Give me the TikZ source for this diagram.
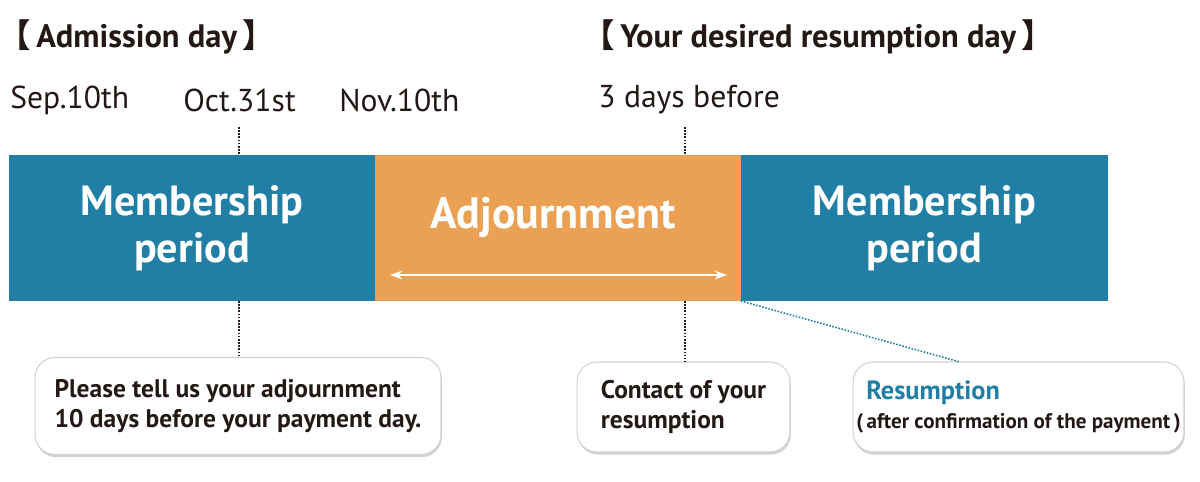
\documentclass[tikz,border=0pt]{standalone}
\usepackage{fontspec}
\setmainfont{PT Sans}
\newfontfamily\cjk{Noto Sans CJK JP}
\usetikzlibrary{arrows.meta,positioning,shadows}
\definecolor{MemberBlue}{RGB}{33,127,166}
\definecolor{PauseOrange}{RGB}{234,161,84}
\definecolor{TextBlack}{RGB}{35,24,21}

\begin{document}
\begin{tikzpicture}[x=0.02cm,y=-0.02cm,
	bar/.style={minimum height=2.92cm,inner sep=0pt,outer sep=0pt,text=white,
		font=\fontsize{24}{27}\selectfont\bfseries,align=center},
	date/.style={anchor=west,inner sep=0pt,text=TextBlack,font=\fontsize{18}{20}\selectfont},
	headline/.style={anchor=west,inner sep=0pt,text=TextBlack,font=\fontsize{18.5}{20}\selectfont\bfseries},
	note/.style={draw=gray!35,fill=white,rounded corners=0.4cm,line width=0.6pt,
		drop shadow={shadow xshift=0.5pt,shadow yshift=-1.5pt,opacity=0.35},
		align=left,inner sep=0pt,text=TextBlack,font=\fontsize{14.5}{17}\selectfont\bfseries},
	tick/.style={TextBlack,line width=0.9pt,dash pattern=on 0.9pt off 0.9pt}
	]
	\useasboundingbox (0,0) rectangle (1200,482);
	
	% headlines and dates
	\node[headline] (admit) at (-2,37) {{\cjk 【}\,Admission day\,{\cjk 】}};
	\node[headline] (desired) at (582,37) {{\cjk 【}\,Your desired resumption day\,{\cjk 】}};
	\node[date] (sep) at (10,100) {Sep.10th};
	\node[date] (oct) at (183,100) {Oct.31st};
	\node[date] (nov) at (339,100) {Nov.10th};
	\node[date] (before) at (598,100) {3 days before};
	
	% bars
	\node[bar,fill=MemberBlue,minimum width=7.32cm] (member1) at (192,228) {Membership\\period};
	\node[bar,fill=PauseOrange,minimum width=7.32cm,right=0pt of member1] (pause) {};
	\node[bar,fill=MemberBlue,minimum width=7.34cm,right=0pt of pause] (member2) {Membership\\period};
	\node[bar,anchor=center,font=\fontsize{25}{27}\selectfont\bfseries] (pauselabel) at (553,217) {Adjournment};
	\coordinate (arrowL) at (390,275);
	\coordinate (arrowR) at (727,275);
	\draw[white,line width=0.8pt,{Stealth[length=7pt,width=5pt]}-{Stealth[length=7pt,width=5pt]}] (arrowL) -- (arrowR);
	
	% notes
	\node[note,minimum width=8.12cm,minimum height=1.94cm] (tell) at (238,406)
		{Please tell us your adjournment\\10 days before your payment day.};
	\node[note,minimum width=4.26cm,minimum height=1.8cm] (contact) at (683.5,407)
		{Contact of your\\resumption};
	\node[note,minimum width=6.62cm,minimum height=1.8cm] (resume) at (1018.5,407)
		{\hspace*{0.2cm}\textcolor{MemberBlue}{\fontsize{15}{17}\selectfont Resumption}\\[-1pt]
		{\fontsize{12}{15}\selectfont(\,after confirmation of the payment\,)}};
	
	% ticks
	\coordinate (octtop) at (239,127);
	\coordinate (daystop) at (685,127);
	\draw[tick] (octtop) -- (octtop |- member1.north);
	\draw[tick] (octtop |- member1.south) -- (octtop |- tell.north);
	\draw[tick] (daystop) -- (daystop |- pause.north);
	\draw[tick] (daystop |- pause.south) -- (daystop |- contact.north);
	\coordinate (resumetop) at (960,362);
	\draw[MemberBlue,line width=0.9pt,dash pattern=on 0.9pt off 0.9pt] (member2.south west) -- (resumetop);
\end{tikzpicture}
\end{document}
